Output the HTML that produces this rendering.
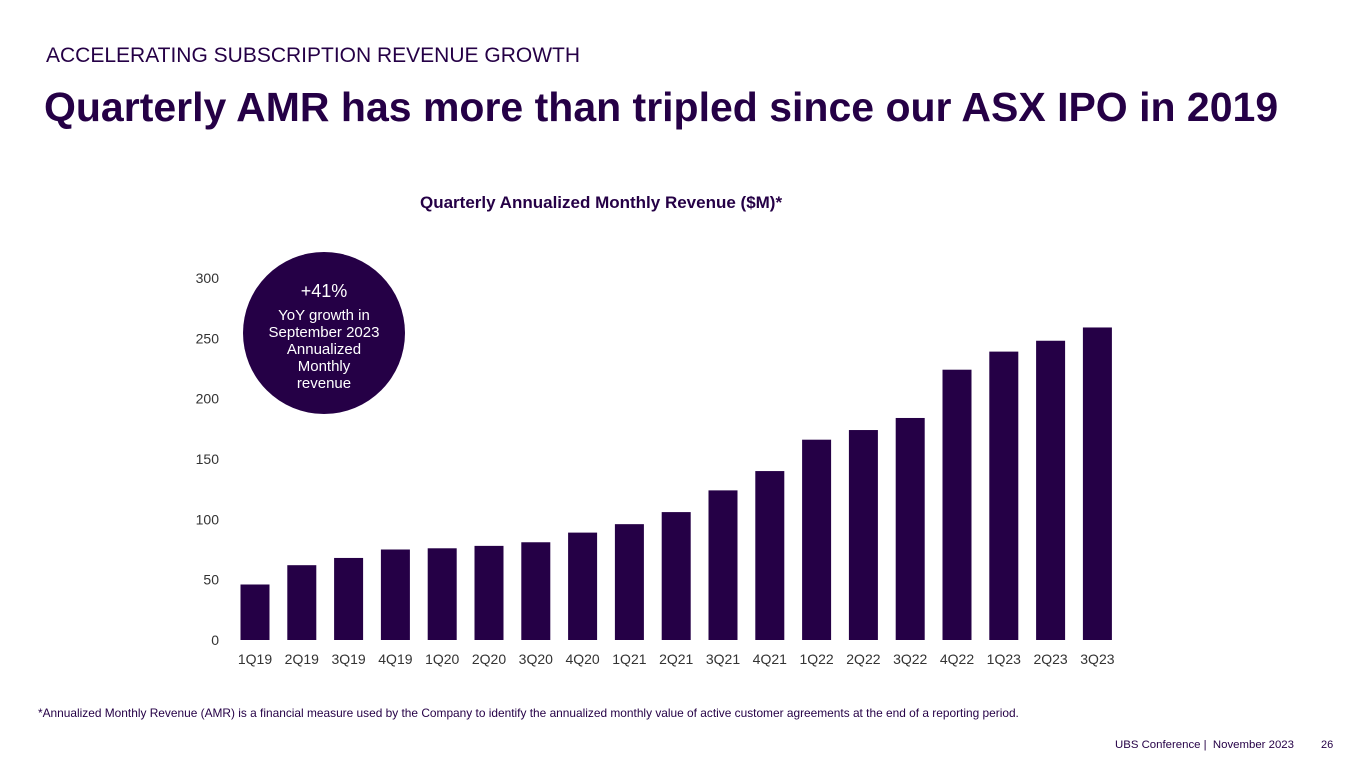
<!DOCTYPE html>
<html><head><meta charset="utf-8"><style>
body{margin:0;width:1365px;height:768px;background:#fff;font-family:"Liberation Sans",sans-serif;overflow:hidden;position:relative;color:#250046}
.t{position:absolute;white-space:nowrap}
</style></head><body>
<div class="t" style="left:46px;top:44px;font-size:21px;color:#250046">ACCELERATING SUBSCRIPTION REVENUE GROWTH</div>
<div class="t" style="left:44px;top:84px;font-size:41px;font-weight:bold;color:#250046">Quarterly AMR has more than tripled since our ASX IPO in 2019</div>
<div class="t" style="left:420px;top:193px;font-size:17px;font-weight:bold;color:#250046">Quarterly Annualized Monthly Revenue ($M)*</div>
<svg id="chart" width="1365" height="768" style="position:absolute;left:0;top:0"></svg>
<div class="t" style="left:38px;top:706px;font-size:11.9px;color:#250046">*Annualized Monthly Revenue (AMR) is a financial measure used by the Company to identify the annualized monthly value of active customer agreements at the end of a reporting period.</div>
<div class="t" style="left:1115px;top:739px;font-size:11.4px;color:#250046">UBS Conference |&nbsp; November 2023</div>
<div class="t" style="left:1321px;top:739px;font-size:11px;color:#250046">26</div>
<script>
const categories=["1Q19","2Q19","3Q19","4Q19","1Q20","2Q20","3Q20","4Q20","1Q21","2Q21","3Q21","4Q21","1Q22","2Q22","3Q22","4Q22","1Q23","2Q23","3Q23"];
const values=[46,62,68,75,76,78,81,89,96,106,124,140,166,174,184,224,239,248,259];
const yTicks=[0,50,100,150,200,250,300];
const NS="http://www.w3.org/2000/svg";
const svg=document.getElementById('chart');
const y0=640,y300=278;
function yScale(v){return y0-(y0-y300)*v/300;}
function xScale(i){return 255+i*46.8;}
const bw=29;
function mk(tag,attrs,txt){const e=document.createElementNS(NS,tag);for(const k in attrs)e.setAttribute(k,attrs[k]);if(txt!==undefined)e.textContent=txt;svg.appendChild(e);return e;}
yTicks.forEach(v=>{
  const t=mk('text',{x:219,y:yScale(v)+5,'text-anchor':'end','font-size':14,fill:'#333','font-family':'Liberation Sans, sans-serif'},String(v));
  
  
});
categories.forEach((c,i)=>{
  const b=mk('rect',{x:xScale(i)-bw/2,y:yScale(values[i]),width:bw,height:y0-yScale(values[i]),fill:'#250046'});
  
  
  const t=mk('text',{x:xScale(i),y:664,'text-anchor':'middle','font-size':14,fill:'#333','font-family':'Liberation Sans, sans-serif'},c);
  
  
});
const g=mk('g',{});


const circ=document.createElementNS(NS,'circle');
circ.setAttribute('cx',324);circ.setAttribute('cy',333);circ.setAttribute('r',81);circ.setAttribute('fill','#250046');
g.appendChild(circ);
const lines=[["+41%",297,18],["YoY growth in",320,15],["September 2023",337,15],["Annualized",354,15],["Monthly",371,15],["revenue",388,15]];
lines.forEach(l=>{const t=document.createElementNS(NS,'text');t.setAttribute('x',324);t.setAttribute('y',l[1]);t.setAttribute('text-anchor','middle');t.setAttribute('font-size',l[2]);t.setAttribute('fill','#fff');t.setAttribute('font-family','Liberation Sans, sans-serif');t.textContent=l[0];g.appendChild(t);});
</script>
</body></html>
